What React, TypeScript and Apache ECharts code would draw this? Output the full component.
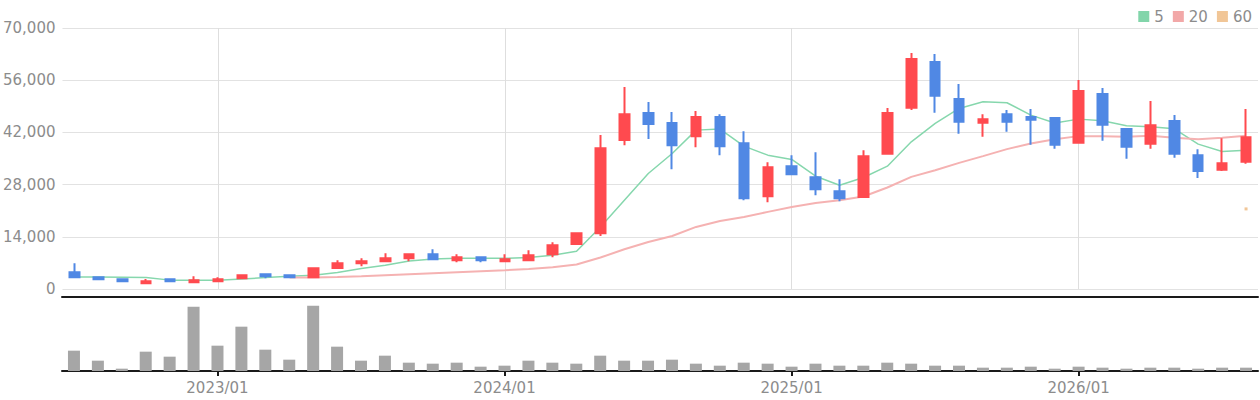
import React, { useEffect, useRef } from 'react';
import * as echarts from 'echarts';

const categories = [
  '2022/07', '2022/08', '2022/09', '2022/10', '2022/11', '2022/12',
  '2023/01', '2023/02', '2023/03', '2023/04', '2023/05', '2023/06', '2023/07', '2023/08', '2023/09', '2023/10', '2023/11', '2023/12',
  '2024/01', '2024/02', '2024/03', '2024/04', '2024/05', '2024/06', '2024/07', '2024/08', '2024/09', '2024/10', '2024/11', '2024/12',
  '2025/01', '2025/02', '2025/03', '2025/04', '2025/05', '2025/06', '2025/07', '2025/08', '2025/09', '2025/10', '2025/11', '2025/12',
  '2026/01', '2026/02', '2026/03', '2026/04', '2026/05', '2026/06', '2026/07', '2026/08',
];

const opens = [
  4480, 3140, 2600, 1530, 2600, 1800, 2070, 2870, 3950, 3680,
  3140, 5640, 6900, 7440, 8240, 9320, 7700, 8510, 7440, 7700,
  9320, 12080, 14960, 39930, 47180, 44490, 41000, 46100, 39120, 24890,
  32940, 29990, 26230, 24700, 36250, 48600, 60870, 50940, 44570, 46900,
  46100, 45830, 39200, 52280, 42880, 38930, 45030, 35900, 31950, 34100,
];
const closes = [
  3140, 2600, 2070, 2070, 2070, 2340, 2600, 3680, 3410, 3140,
  5560, 6900, 7440, 8240, 9320, 7970, 8510, 7700, 7970, 9050,
  11730, 14960, 37780, 46900, 44220, 38580, 46100, 38310, 24350, 32680,
  30800, 26770, 24350, 35630, 47180, 61670, 51820, 44840, 45560, 44840,
  45380, 38660, 53080, 44030, 38130, 43950, 36250, 31680, 33750, 40730,
];
const lows = [
  3140, 2340, 1800, 1530, 1800, 1800, 2070, 2870, 2870, 2870,
  2870, 5640, 6100, 7170, 7440, 7700, 7170, 7170, 7440, 7440,
  8510, 11810, 14230, 38580, 40200, 32140, 38050, 35900, 23820, 23280,
  30530, 25160, 23550, 24700, 36250, 47980, 47260, 41620, 40810, 42150,
  38660, 37590, 39200, 39740, 34910, 37590, 35170, 29800, 31680, 33560,
];
const highs = [
  6900, 3140, 2600, 2690, 2600, 3410, 3140, 3950, 3950, 3680,
  5830, 7700, 8240, 9590, 9590, 10660, 9320, 8510, 9320, 10390,
  12540, 14960, 41270, 54160, 50130, 47440, 47710, 46900, 42340, 34020,
  35900, 36700, 29450, 37240, 48520, 63280, 63010, 54960, 46900, 47980,
  48250, 45830, 56040, 53890, 43150, 50400, 46640, 37510, 40460, 48250,
];

const ma5 = [
  3220, 3200, 3130, 3060, 2380, 2380, 2380, 2690, 3060, 3410,
  3700, 4400, 5470, 6360, 7520, 8060, 8240, 8240, 8240, 8420,
  9050, 10150, 16650, 23820, 30980, 36350, 42610, 42880, 38310, 35900,
  34740, 30260, 27840, 29900, 32940, 39470, 44400, 48430, 50220, 49950,
  46640, 44500, 45560, 45110, 43770, 43500, 42960, 38850, 36890, 37240,
];
const ma20 = [
  null, null, null, null, null, null, null, null, null, 3060,
  3100, 3220, 3410, 3680, 3950, 4220, 4480, 4750, 5020, 5370,
  5830, 6550, 8430, 10660, 12620, 14230, 16650, 18260, 19330, 20680,
  22020, 23090, 23820, 24800, 27230, 30070, 31870, 33830, 35630, 37510,
  39040, 40190, 41000, 41000, 40810, 41080, 40540, 40190, 40540, 41080,
];
const ma60 = [
  null, null, null, null, null, null, null, null, null, null,
  null, null, null, null, null, null, null, null, null, null,
  null, null, null, null, null, null, null, null, null, null,
  null, null, null, null, null, null, null, null, null, null,
  null, null, null, null, null, null, null, null, null, 21480,
];

const volumes = [
  61, 31, 7, 58, 43, 193, 76, 133, 64, 34,
  196, 73, 31, 46, 25, 22, 25, 13, 16, 31,
  25, 22, 46, 31, 31, 34, 22, 16, 25, 22,
  13, 22, 16, 16, 25, 22, 16, 16, 10, 10,
  13, 7, 13, 10, 7, 10, 10, 7, 10, 10,
];

const yTicks = { min: 0, max: 70000, interval: 14000 };
const legendNames = ['5', '20', '60'];

const UP = '#ff4a4f';
const DOWN = '#5088e4';
const FONT = 'DejaVu Sans';
const LABEL_COLOR = '#8c8c8c';

const isJan = (_i: number, v: string) => String(v).endsWith('/01');

export default function App() {
  const ref = useRef<HTMLDivElement>(null);

  useEffect(() => {
    document.body.style.margin = '0';
    const chart = echarts.init(ref.current as HTMLDivElement, null, { renderer: 'svg' });
    const candleData = opens.map((o, i) => [o, closes[i], lows[i], highs[i]]);
    const option: any = {
      animation: false,
      legend: {
        data: legendNames.map((n) => ({ name: n, icon: 'rect' })),
        right: 3,
        top: 4,
        itemWidth: 11,
        itemHeight: 11,
        itemGap: 9,
        textStyle: { color: LABEL_COLOR, fontSize: 15, fontFamily: FONT },
      },
      grid: [
        { left: 62, right: 2, top: 28, height: 261 },
        { left: 62, right: 2, top: 297, height: 74 },
      ],
      xAxis: [
        {
          type: 'category',
          gridIndex: 0,
          data: categories,
          boundaryGap: true,
          axisLine: { show: false },
          axisTick: { show: false },
          axisLabel: { show: false },
          splitLine: {
            show: true,
            alignWithLabel: true,
            interval: isJan,
            lineStyle: { color: '#dedede', width: 1 },
          },
        },
        {
          type: 'category',
          gridIndex: 1,
          data: categories,
          boundaryGap: true,
          axisLine: { show: true, lineStyle: { color: '#1a1a1a', width: 2 } },
          axisTick: {
            show: true,
            alignWithLabel: true,
            interval: isJan,
            length: 5,
            lineStyle: { color: '#1a1a1a', width: 2 },
          },
          axisLabel: {
            interval: isJan,
            color: LABEL_COLOR,
            fontSize: 15,
            fontFamily: FONT,
            margin: 9,
          },
          splitLine: { show: false },
        },
        {
          type: 'category',
          gridIndex: 1,
          position: 'top',
          data: categories,
          boundaryGap: true,
          axisLine: { show: true, lineStyle: { color: '#1a1a1a', width: 2 } },
          axisTick: { show: false },
          axisLabel: { show: false },
          splitLine: { show: false },
        },
      ],
      yAxis: [
        {
          type: 'value',
          gridIndex: 0,
          min: yTicks.min,
          max: yTicks.max,
          interval: yTicks.interval,
          axisLine: { show: false },
          axisTick: { show: false },
          axisLabel: {
            color: LABEL_COLOR,
            fontSize: 15,
            fontFamily: FONT,
            margin: 7,
            formatter: (v: number) => v.toLocaleString('en-US'),
          },
          splitLine: { show: true, lineStyle: { color: '#e2e2e2', width: 1 } },
        },
        {
          type: 'value',
          gridIndex: 1,
          min: 0,
          max: 222,
          show: false,
          splitLine: { show: false },
        },
      ],
      series: [
        {
          type: 'candlestick',
          name: 'price',
          xAxisIndex: 0,
          yAxisIndex: 0,
          data: candleData,
          barWidth: 10,
          itemStyle: {
            color: UP,
            color0: DOWN,
            borderColor: UP,
            borderColor0: DOWN,
            borderWidth: 2,
          },
          z: 3,
        },
        {
          type: 'line',
          name: '5',
          xAxisIndex: 0,
          yAxisIndex: 0,
          data: ma5,
          color: '#82d5aa',
          showSymbol: false,
          symbol: 'none',
          lineStyle: { color: '#86d7ad', width: 1.5 },
          z: 2,
        },
        {
          type: 'line',
          name: '20',
          xAxisIndex: 0,
          yAxisIndex: 0,
          data: ma20,
          color: '#f2a8a8',
          showSymbol: false,
          symbol: 'none',
          lineStyle: { color: '#f5b2b2', width: 2 },
          z: 2,
        },
        {
          type: 'line',
          name: '60',
          xAxisIndex: 0,
          yAxisIndex: 0,
          data: ma60,
          color: '#f1c697',
          showSymbol: true,
          symbol: 'rect',
          symbolSize: 3,
          itemStyle: { color: '#f1c697' },
          lineStyle: { color: '#f1c697', width: 1.5 },
          z: 2,
        },
        {
          type: 'bar',
          name: 'volume',
          xAxisIndex: 1,
          yAxisIndex: 1,
          data: volumes,
          barWidth: 12,
          itemStyle: { color: '#a6a6a6' },
        },
      ],
    };
    chart.setOption(option);
    return () => chart.dispose();
  }, []);

  return <div ref={ref} style={{ width: 1260, height: 400 }} />;
}
